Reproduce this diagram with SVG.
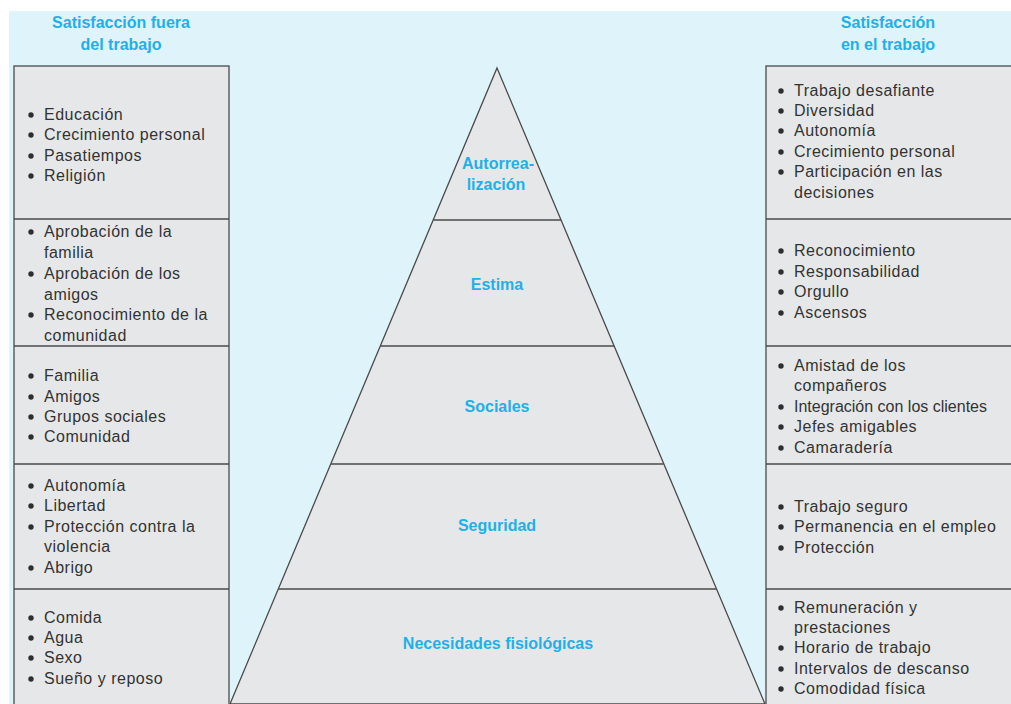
<svg xmlns="http://www.w3.org/2000/svg" width="1011" height="704" viewBox="0 0 1011 704">
<defs>
<circle id="b" cx="0" cy="0" r="2.7" fill="#2e2e2e"/>
</defs>
<style>
.hd{font-family:"Liberation Sans",Arial,sans-serif;font-weight:bold;font-size:16px;fill:#1fb0e8;text-anchor:middle}
.lv{font-family:"Liberation Sans",Arial,sans-serif;font-weight:bold;font-size:16px;fill:#1fb0e8;text-anchor:middle}
.it{font-family:"Liberation Sans",Arial,sans-serif;font-size:16px;fill:#333333;letter-spacing:0.5px}
.box{fill:#e6e7e8;stroke:#4a4a4a;stroke-width:1.3}
.div{stroke:#4a4a4a;stroke-width:1.3}
</style>
<rect x="0" y="0" width="1011" height="704" fill="#ffffff"/>
<rect x="9" y="11" width="1002" height="693" fill="#dff3fb"/>
<g id="header-left">
<text class="hd" x="121" y="28">Satisfacción fuera</text>
<text class="hd" x="121" y="50">del trabajo</text>
</g>
<g id="header-right">
<text class="hd" x="888" y="28">Satisfacción</text>
<text class="hd" x="888" y="50">en el trabajo</text>
</g>
<g id="pyramid">
<polygon points="497,68 765,704 230,704" fill="#e6e7e8" stroke="#4a4a4a" stroke-width="1.3"/>
<line class="div" x1="433.5" y1="220" x2="561" y2="220"/>
<line class="div" x1="380.5" y1="346" x2="614" y2="346"/>
<line class="div" x1="331" y1="464" x2="663.5" y2="464"/>
<line class="div" x1="278.5" y1="589" x2="716" y2="589"/>
<text class="lv" x="498" y="169">Autorrea-</text>
<text class="lv" x="496" y="190">lización</text>
<text class="lv" x="497" y="290">Estima</text>
<text class="lv" x="497" y="412">Sociales</text>
<text class="lv" x="497" y="531">Seguridad</text>
<text class="lv" x="498" y="649">Necesidades fisiológicas</text>
</g>
<g id="left-column">
<rect class="box" x="14" y="66" width="215" height="640"/>
<line class="div" x1="14" y1="219" x2="229" y2="219"/>
<line class="div" x1="14" y1="346" x2="229" y2="346"/>
<line class="div" x1="14" y1="464" x2="229" y2="464"/>
<line class="div" x1="14" y1="589" x2="229" y2="589"/>
<g>
<use href="#b" x="31" y="115"/><use href="#b" x="31" y="135"/><use href="#b" x="31" y="156"/><use href="#b" x="31" y="176"/>
<use href="#b" x="31" y="232"/><use href="#b" x="31" y="274"/><use href="#b" x="31" y="315"/>
<use href="#b" x="31" y="376"/><use href="#b" x="31" y="397"/><use href="#b" x="31" y="417"/><use href="#b" x="31" y="437"/>
<use href="#b" x="31" y="486"/><use href="#b" x="31" y="506"/><use href="#b" x="31" y="527"/><use href="#b" x="31" y="568"/>
<use href="#b" x="31" y="618"/><use href="#b" x="31" y="638"/><use href="#b" x="31" y="658"/><use href="#b" x="31" y="679"/>
</g>
<g class="it">
<text x="44" y="120">Educación</text>
<text x="44" y="140">Crecimiento personal</text>
<text x="44" y="161">Pasatiempos</text>
<text x="44" y="181">Religión</text>
<text x="44" y="237">Aprobación de la</text>
<text x="44" y="258">familia</text>
<text x="44" y="279">Aprobación de los</text>
<text x="44" y="300">amigos</text>
<text x="44" y="320">Reconocimiento de la</text>
<text x="44" y="341">comunidad</text>
<text x="44" y="381">Familia</text>
<text x="44" y="402">Amigos</text>
<text x="44" y="422">Grupos sociales</text>
<text x="44" y="442">Comunidad</text>
<text x="44" y="491">Autonomía</text>
<text x="44" y="511">Libertad</text>
<text x="44" y="532">Protección contra la</text>
<text x="44" y="552">violencia</text>
<text x="44" y="573">Abrigo</text>
<text x="44" y="623">Comida</text>
<text x="44" y="643">Agua</text>
<text x="44" y="663">Sexo</text>
<text x="44" y="684">Sueño y reposo</text>
</g>
</g>
<g id="right-column">
<rect class="box" x="766" y="66" width="250" height="640"/>
<line class="div" x1="766" y1="219" x2="1011" y2="219"/>
<line class="div" x1="766" y1="346" x2="1011" y2="346"/>
<line class="div" x1="766" y1="464" x2="1011" y2="464"/>
<line class="div" x1="766" y1="589" x2="1011" y2="589"/>
<g>
<use href="#b" x="781" y="91"/><use href="#b" x="781" y="111"/><use href="#b" x="781" y="131"/><use href="#b" x="781" y="152"/><use href="#b" x="781" y="172"/>
<use href="#b" x="781" y="251"/><use href="#b" x="781" y="272"/><use href="#b" x="781" y="292"/><use href="#b" x="781" y="313"/>
<use href="#b" x="781" y="366"/><use href="#b" x="781" y="407"/><use href="#b" x="781" y="427"/><use href="#b" x="781" y="448"/>
<use href="#b" x="781" y="507"/><use href="#b" x="781" y="527"/><use href="#b" x="781" y="548"/>
<use href="#b" x="781" y="608"/><use href="#b" x="781" y="648"/><use href="#b" x="781" y="669"/><use href="#b" x="781" y="689"/>
</g>
<g class="it">
<text x="794" y="96">Trabajo desafiante</text>
<text x="794" y="116">Diversidad</text>
<text x="794" y="136">Autonomía</text>
<text x="794" y="157">Crecimiento personal</text>
<text x="794" y="177">Participación en las</text>
<text x="794" y="198">decisiones</text>
<text x="794" y="256">Reconocimiento</text>
<text x="794" y="277">Responsabilidad</text>
<text x="794" y="297">Orgullo</text>
<text x="794" y="318">Ascensos</text>
<text x="794" y="371">Amistad de los</text>
<text x="794" y="391">compañeros</text>
<text x="794" y="412" letter-spacing="0">Integración con los clientes</text>
<text x="794" y="432">Jefes amigables</text>
<text x="794" y="453">Camaradería</text>
<text x="794" y="512">Trabajo seguro</text>
<text x="794" y="532">Permanencia en el empleo</text>
<text x="794" y="553">Protección</text>
<text x="794" y="613">Remuneración y</text>
<text x="794" y="633">prestaciones</text>
<text x="794" y="653">Horario de trabajo</text>
<text x="794" y="674">Intervalos de descanso</text>
<text x="794" y="694">Comodidad física</text>
</g>
</g>
</svg>
